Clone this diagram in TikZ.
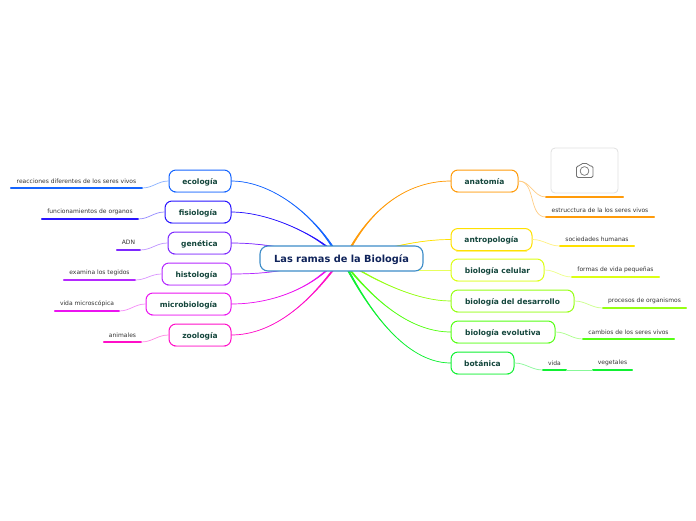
\documentclass[tikz,border=0pt]{standalone}
\usepackage{fontspec}
\setmainfont{DejaVu Sans}
\begin{document}
\begin{tikzpicture}[x=1pt, y=-1pt, line cap=round, line join=round,
    centro/.style={draw=azulcentro, line width=1.1pt, rounded corners=8pt, fill=white,
      minimum width=163pt, minimum height=25pt, inner sep=0pt, text=azultexto,
      text height=9.4pt, text depth=2pt,
      font=\fontsize{9.8}{12}\selectfont\bfseries},
    rama/.style={rounded corners=7pt, line width=1pt, fill=white, minimum height=22pt,
      inner sep=0pt, text=verdetexto, text height=7.8pt, text depth=1.4pt,
      font=\fontsize{7.5}{9}\selectfont\bfseries},
    hoja/.style={anchor=south, minimum height=14pt, inner sep=0pt, text=black!80,
      font=\fontsize{6}{7}\selectfont}]
  \definecolor{azulcentro}{RGB}{60,140,200}
  \definecolor{azultexto}{RGB}{15,35,90}
  \definecolor{verdetexto}{RGB}{20,70,60}
  \definecolor{ceco}{RGB}{20,100,255}
  \definecolor{cfis}{RGB}{40,20,255}
  \definecolor{cgen}{RGB}{125,40,255}
  \definecolor{chis}{RGB}{180,40,255}
  \definecolor{cmic}{RGB}{235,20,240}
  \definecolor{czoo}{RGB}{255,15,200}
  \definecolor{cana}{RGB}{255,155,10}
  \definecolor{cant}{RGB}{255,225,0}
  \definecolor{ccel}{RGB}{220,255,20}
  \definecolor{cdes}{RGB}{150,255,20}
  \definecolor{cevo}{RGB}{85,255,20}
  \definecolor{cbot}{RGB}{15,240,50}
  \useasboundingbox (0,0) rectangle (696,520);

  % conectores al centro, bajo los nodos
  \foreach \nombre/\lado/\sx/\sy/\ex/\ey/\ax/\ay/\bx/\by/\col in {
      ecologia/east/231/181/332/246/270/181/310/212/ceco,
      fisiologia/east/231/212/326/246/265/212/305/230/cfis,
      genetica/east/231/243/278/247/250/243/265/245/cgen,
      histologia/east/231/274/283/270/250/274/268/273/chis,
      microbiologia/east/231/304/327/270/270/304/305/290/cmic,
      zoologia/east/231/335/333/270/275/335/310/300/czoo,
      anatomia/west/451/181/351/247/410/181/375/205/cana,
      antropologia/west/451/239.5/393/247/430/239.5/410/243/cant,
      celular/west/451/270/418/270/440/270/430/270/ccel,
      desarrollo/west/451/301/359/270/420/301/385/285/cdes,
      evolutiva/west/451/332/350/270/410/332/375/300/cevo,
      botanica/west/451/363/348/270/410/363/375/320/cbot} {
    \coordinate (ini\nombre) at (\sx,\sy);
    \coordinate (fin\nombre) at (\ex,\ey);
    \filldraw[\col, line width=0.7pt] (ini\nombre) .. controls (\ax,\ay) and (\bx,\by) .. ([xshift=0.8pt]fin\nombre)
      -- ([xshift=-0.8pt]fin\nombre) .. controls (\bx,\by) and (\ax,\ay) .. cycle;
  }

  \node[centro] (biologia) at (341.5,258.5) {Las ramas de la Biología};

  % ramas: nombre/texto/centro x/ancho/centro y/color
  \foreach \nombre/\etiq/\cx/\ancho/\cy/\col in {
      ecologia/ecología/200/62/181/ceco,
      fisiologia/fisiología/198/66/212/cfis,
      genetica/genética/199.5/63/243/cgen,
      histologia/histología/196.5/69/274/chis,
      microbiologia/microbiología/188.5/85/304/cmic,
      zoologia/zoología/200/62/335/czoo,
      anatomia/anatomía/484.5/67/181/cana,
      antropologia/antropología/491.5/81/239.5/cant,
      celular/biología celular/497.5/93/270/ccel,
      desarrollo/biología del desarrollo/512.5/123/301/cdes,
      evolutiva/biología evolutiva/503/104/332/cevo,
      botanica/botánica/482.5/63/363/cbot} {
    \node[rama, draw=\col, minimum width=\ancho pt] (\nombre) at (\cx,\cy) {\etiq};
    \draw[\col!50!white, line width=1pt] ([xshift=6pt]\nombre.south west) -- ([xshift=-6pt]\nombre.south east);
  }

  % hojas: nombre/texto/centro x/ancho/linea y/color/rama/lados
  \foreach \nombre/\etiq/\cx/\ancho/\ly/\col/\padre/\lp/\lh/\sal/\ent in {
      reacciones/reacciones diferentes de los seres vivos/76.5/131/188/ceco/ecologia/west/east/180/0,
      funciones/funcionamientos de organos/90/96/219/cfis/fisiologia/west/east/180/0,
      adn/ADN/128.5/23/250/cgen/genetica/west/east/180/0,
      tegidos/examina los tegidos/99.5/71/280/chis/histologia/west/east/180/0,
      vidamicro/vida microscópica/87/64/311/cmic/microbiologia/west/east/180/0,
      animales/animales/122.5/37/342/czoo/zoologia/west/east/180/0,
      lineafoto/{}/584.5/77/197/cana/anatomia/east/west/0/180,
      estructura/estrucctura de la los seres vivos/600/108/217/cana/anatomia/east/west/0/180,
      sociedades/sociedades humanas/597/74/246/cant/antropologia/east/west/0/180,
      formas/formas de vida pequeñas/615.5/87/277/ccel/celular/east/west/0/180,
      procesos/procesos de organismos/644.5/83/308/cdes/desarrollo/east/west/0/180,
      cambios/cambios de los seres vivos/628.5/91/339/cevo/evolutiva/east/west/0/180,
      vida/vida/554.5/23/370/cbot/botanica/east/west/0/180} {
    \node[hoja, minimum width=\ancho pt] (\nombre) at (\cx,\ly) {\etiq};
    \draw[\col, line width=1.5pt] (\nombre.south west) -- (\nombre.south east);
    \draw[\col!50!white, line width=0.7pt] (\padre.\lp) to[out=\sal, in=\ent] (\nombre.south \lh);
  }
  \node[hoja, minimum width=39pt] (vegetales) at (612.5,370) {vegetales};
  \draw[cbot, line width=1.5pt] (vegetales.south west) -- (vegetales.south east);
  \draw[cbot!50!white, line width=0.7pt] (vida.south east) -- (vegetales.south west);

  % foto
  \node[draw=black!12, line width=0.8pt, rounded corners=4pt, fill=white, minimum width=67pt, minimum height=45pt] (foto) at (584.5,170.5) {};
  \draw[black!55, line width=0.8pt, rounded corners=1.5pt]
    (576.5,166) -- (580,166) -- (581,163.5) -- (588,163.5) -- (589,166) -- (593,166)
    -- (593,177.5) -- (576.5,177.5) -- cycle;
  \draw[black!55, line width=0.7pt] (584.5,171) circle (4.4pt);
\end{tikzpicture}
\end{document}
